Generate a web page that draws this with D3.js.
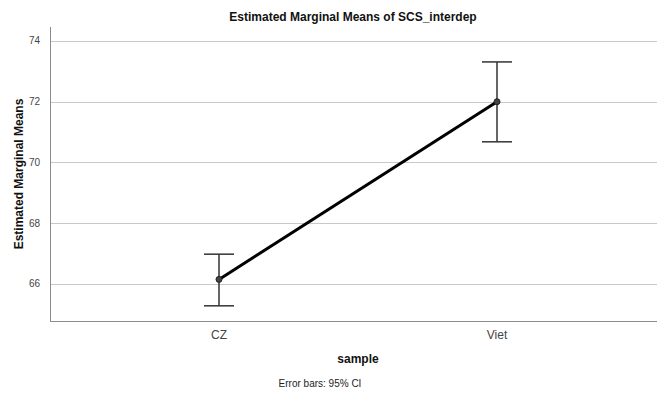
<!DOCTYPE html>
<html>
<head>
<meta charset="utf-8">
<script src="https://cdn.jsdelivr.net/npm/d3@7"></script>
<style>
  body { margin: 0; background: #fff; }
  text { font-family: "Liberation Sans", Arial, sans-serif; }
</style>
</head>
<body>
<svg id="chart" width="658" height="394"></svg>
<script>
// data
var categories = ["CZ", "Viet"];
var means = [66.15, 72.0];
var ciLow = [65.28, 70.68];
var ciHigh = [66.98, 73.31];
var yTicks = [66, 68, 70, 72, 74];

var svg = d3.select("#chart");
var plotLeft = 50, plotRight = 657, plotTop = 27, plotBottom = 321;

var x = d3.scalePoint().domain(categories).range([219, 497]);
var y = d3.scaleLinear().domain([64.78, 74.46]).range([plotBottom, plotTop]);

// gridlines
svg.append("g").selectAll("line").data(yTicks).enter().append("line")
    .attr("x1", plotLeft).attr("x2", plotRight)
    .attr("y1", function (d) { return Math.round(y(d)) + 0.5; })
    .attr("y2", function (d) { return Math.round(y(d)) + 0.5; })
    .attr("stroke", "#c8c8c8").attr("stroke-width", 1);

// axes lines
svg.append("line").attr("x1", plotLeft + 0.5).attr("x2", plotLeft + 0.5)
    .attr("y1", plotTop).attr("y2", plotBottom)
    .attr("stroke", "#8c8c8c").attr("stroke-width", 1);
svg.append("line").attr("x1", plotLeft).attr("x2", plotRight)
    .attr("y1", plotBottom + 0.5).attr("y2", plotBottom + 0.5)
    .attr("stroke", "#8c8c8c").attr("stroke-width", 1);

// y tick labels
svg.append("g").selectAll("text").data(yTicks).enter().append("text")
    .attr("x", 40).attr("y", function (d) { return y(d); })
    .attr("dy", "0.35em").attr("text-anchor", "end")
    .attr("font-size", 10).attr("fill", "#444")
    .text(function (d) { return d; });

// x tick labels
svg.append("g").selectAll("text").data(categories).enter().append("text")
    .attr("x", function (d) { return x(d); }).attr("y", 339)
    .attr("text-anchor", "middle").attr("font-size", 12).attr("fill", "#444")
    .text(function (d) { return d; });

// error bars
var pts = categories.map(function (c, i) {
    return {cat: c, m: means[i], lo: ciLow[i], hi: ciHigh[i]};
});
var eb = svg.append("g").attr("stroke", "#333").attr("stroke-width", 1.5);
pts.forEach(function (p) {
    var cx = x(p.cat);
    eb.append("line").attr("x1", cx).attr("x2", cx).attr("y1", y(p.hi)).attr("y2", y(p.lo));
    eb.append("line").attr("x1", cx - 15).attr("x2", cx + 15).attr("y1", y(p.hi)).attr("y2", y(p.hi));
    eb.append("line").attr("x1", cx - 15).attr("x2", cx + 15).attr("y1", y(p.lo)).attr("y2", y(p.lo));
});

// mean line
var line = d3.line().x(function (d) { return x(d.cat); }).y(function (d) { return y(d.m); });
svg.append("path").datum(pts).attr("d", line)
    .attr("fill", "none").attr("stroke", "#000").attr("stroke-width", 3);

svg.append("g").selectAll("circle").data(pts).enter().append("circle")
    .attr("cx", function (d) { return x(d.cat); })
    .attr("cy", function (d) { return y(d.m); })
    .attr("r", 3).attr("fill", "#444").attr("stroke", "#222");

// titles
svg.append("text").attr("x", 353).attr("y", 21).attr("text-anchor", "middle")
    .attr("font-size", 12).attr("font-weight", "bold").attr("fill", "#111")
    .text("Estimated Marginal Means of SCS_interdep");
svg.append("text").attr("transform", "translate(23,174) rotate(-90)")
    .attr("text-anchor", "middle").attr("font-size", 12).attr("font-weight", "bold").attr("fill", "#111")
    .text("Estimated Marginal Means");
svg.append("text").attr("x", 358).attr("y", 363).attr("text-anchor", "middle")
    .attr("font-size", 12).attr("font-weight", "bold").attr("fill", "#111")
    .text("sample");
svg.append("text").attr("x", 320).attr("y", 387).attr("text-anchor", "middle")
    .attr("font-size", 10).attr("fill", "#222")
    .text("Error bars: 95% CI");
</script>
</body>
</html>
